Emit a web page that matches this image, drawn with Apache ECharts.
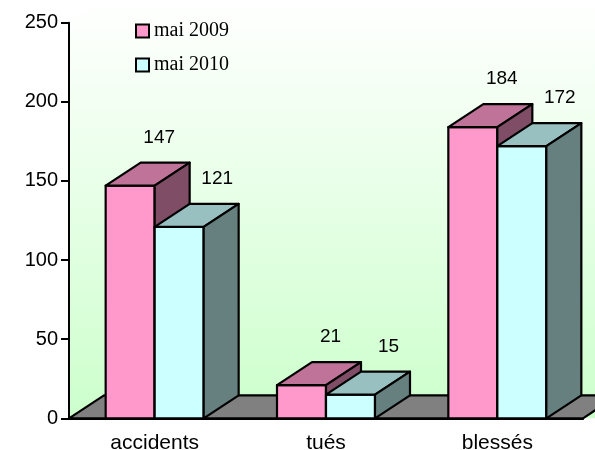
<!DOCTYPE html>
<html>
<head>
<meta charset="utf-8">
<script src="https://cdn.jsdelivr.net/npm/echarts@6/dist/echarts.min.js"></script>
<style>html,body{margin:0;padding:0;background:#fff}#chart{width:595px;height:450px}</style>
</head>
<body>
<div id="chart"></div>
<script>
var categories = ['accidents', 'tués', 'blessés'];
var mai2009 = [147, 21, 184];
var mai2010 = [121, 15, 172];
var yTicks = [0, 50, 100, 150, 200, 250];

// décalage de profondeur (effet 3D)
var DX = 35, DY = -23;
var sansFont = '"Liberation Sans", Arial, sans-serif';
var serifFont = '"Liberation Serif", "Times New Roman", serif';

var pink = {front: '#ff99cc', top: '#bf7399', side: '#804d66'};
var cyan = {front: '#ccffff', top: '#99c0c0', side: '#668080'};

function edge(fill) {
    return {fill: fill, stroke: '#000', lineWidth: 2.2, lineJoin: 'round'};
}

function renderFrame(params, api) {
    var cs = params.coordSys;
    var x0 = cs.x, x1 = cs.x + cs.width;
    var yTop = cs.y, y0 = cs.y + cs.height;
    return {
        type: 'group',
        children: [
            {type: 'polygon', shape: {points: [[x0, y0], [x0, yTop], [x0 + DX, yTop + DY], [x1 + DX, yTop + DY], [x1 + DX, y0]]},
             style: {fill: {type: 'linear', x: 0, y: 0, x2: 0, y2: 1, colorStops: [{offset: 0, color: '#ffffff'}, {offset: 1, color: '#ccffcc'}]}}},
            {type: 'polygon', shape: {points: [[x0, y0], [x1, y0], [x1 + DX, y0 + DY], [x0 + DX, y0 + DY]]},
             style: edge('#808080')}
        ]
    };
}

function barRender(side, col, labelDx) {
    return function (params, api) {
        var idx = api.value(0);
        var val = api.value(1);
        var base = api.coord([idx, 0]);
        var top = api.coord([idx, val]);
        var band = api.size([1, 0])[0];
        var w = band * 0.286;
        var x0 = side < 0 ? base[0] - w : base[0];
        var x1 = x0 + w;
        var y0 = base[1], y1 = top[1];
        return {
            type: 'group',
            children: [
                {type: 'polygon', shape: {points: [[x0, y0], [x1, y0], [x1, y1], [x0, y1]]}, style: edge(col.front)},
                {type: 'polygon', shape: {points: [[x0, y1], [x1, y1], [x1 + DX, y1 + DY], [x0 + DX, y1 + DY]]}, style: edge(col.top)},
                {type: 'polygon', shape: {points: [[x1, y0], [x1 + DX, y0 + DY], [x1 + DX, y1 + DY], [x1, y1]]}, style: edge(col.side)},
                {type: 'text', x: (x0 + x1) / 2 + labelDx, y: y1 - 48,
                 style: {text: String(val), align: 'center', verticalAlign: 'middle', font: '19px ' + sansFont, fill: '#000'}}
            ]
        };
    };
}

var chart = echarts.init(document.getElementById('chart'));
chart.setOption({
    animation: false,
    grid: {left: 69, right: 12, top: 22.7, bottom: 31.7, outerBoundsMode: 'none', containLabel: false},
    legend: {
        orient: 'vertical', left: 135, top: 21, padding: 0,
        itemWidth: 13, itemHeight: 13, itemGap: 14, icon: 'rect',
        itemStyle: {borderColor: '#000', borderWidth: 2},
        textStyle: {fontFamily: serifFont, fontSize: 20, color: '#000'},
        data: ['mai 2009', 'mai 2010']
    },
    xAxis: {
        type: 'category', data: categories, z: 10,
        axisLine: {lineStyle: {color: '#000', width: 2}},
        axisTick: {length: 8, lineStyle: {color: '#000', width: 2}},
        axisLabel: {color: '#000', fontSize: 21, fontFamily: sansFont, margin: 14}
    },
    yAxis: {
        type: 'value', min: yTicks[0], max: yTicks[yTicks.length - 1], interval: yTicks[1] - yTicks[0], z: 10,
        splitLine: {show: false},
        axisLine: {show: true, lineStyle: {color: '#000', width: 2}},
        axisTick: {show: true, length: 8, lineStyle: {color: '#000', width: 2}},
        axisLabel: {color: '#000', fontSize: 20, fontFamily: sansFont, margin: 11}
    },
    series: [
        {type: 'custom', name: 'cadre', z: 1, silent: true, renderItem: renderFrame, data: [[0, 0]], encode: {x: 0, y: 1}},
        {type: 'custom', name: 'mai 2009', z: 2, itemStyle: {color: pink.front}, renderItem: barRender(-1, pink, 29),
         data: mai2009.map(function (v, i) { return [i, v]; }), encode: {x: 0, y: 1}},
        {type: 'custom', name: 'mai 2010', z: 3, itemStyle: {color: cyan.front}, renderItem: barRender(1, cyan, 38),
         data: mai2010.map(function (v, i) { return [i, v]; }), encode: {x: 0, y: 1}}
    ]
});
</script>
</body>
</html>
